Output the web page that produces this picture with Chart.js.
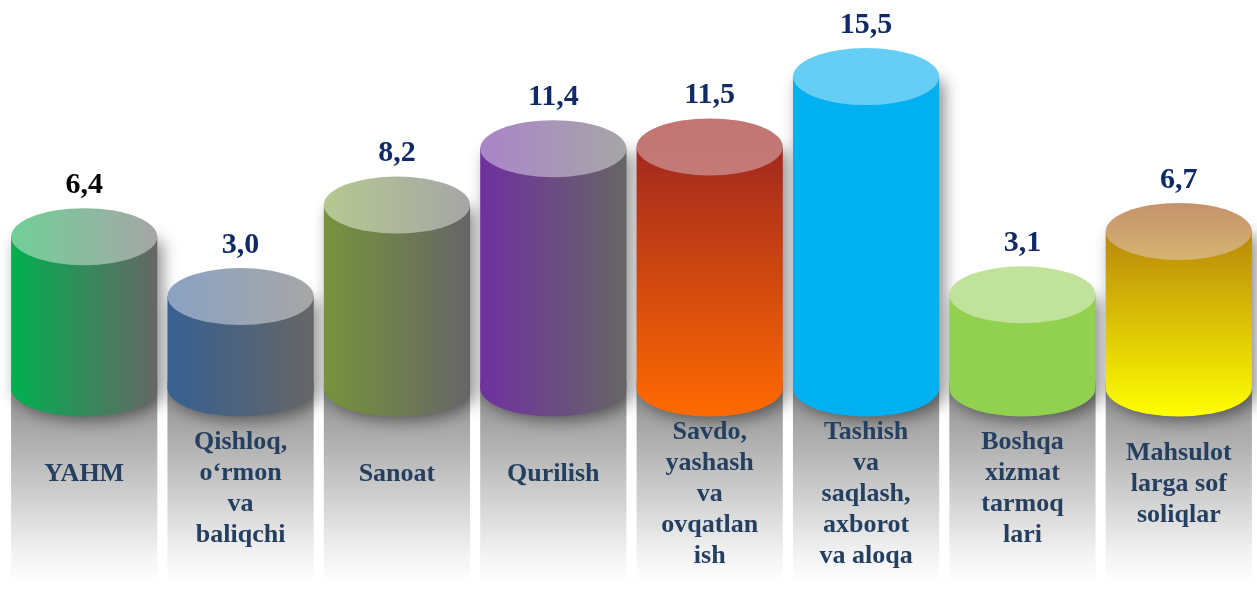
<!DOCTYPE html>
<html>
<head>
<meta charset="utf-8">
<script src="https://cdn.jsdelivr.net/npm/chart.js@4"></script>
<style>
  html, body { margin: 0; padding: 0; background: #ffffff; }
  #wrap { width: 1257px; height: 603px; position: relative; overflow: hidden; }
</style>
</head>
<body>
<div id="wrap"><canvas id="sectorChart"></canvas></div>
<script>
// Tarmoqlar (kategoriyalar), har bir qator alohida
const sectors = [
    ['YAHM'],
    ['Qishloq,', 'o‘rmon', 'va', 'baliqchi'],
    ['Sanoat'],
    ['Qurilish'],
    ['Savdo,', 'yashash', 'va', 'ovqatlan', 'ish'],
    ['Tashish', 'va', 'saqlash,', 'axborot', 'va aloqa'],
    ['Boshqa', 'xizmat', 'tarmoq', 'lari'],
    ['Mahsulot', 'larga sof', 'soliqlar']
];
const growthValues = [6.4, 3.0, 8.2, 11.4, 11.5, 15.5, 3.1, 6.7];
const axisMin = -2.2;
const axisMax = 19.85;

// silindr ranglari: h = gorizontal gradient, v = vertikal
const cylinderStyles = [
    { dir: 'h', body: ['#00b050', '#666666'], top: ['#70d098', '#a6a6a6'], label: '#000000' },
    { dir: 'h', body: ['#376092', '#666666'], top: ['#8aa2c3', '#a6a6a6'], label: '#0f2a66' },
    { dir: 'h', body: ['#77933c', '#666666'], top: ['#b5c890', '#a6a6a6'], label: '#0f2a66' },
    { dir: 'h', body: ['#7030a0', '#666666'], top: ['#aa84c9', '#a6a6a6'], label: '#0f2a66' },
    { dir: 'v', body: ['#a3281f', '#ff6a00'], top: ['#c27572', '#c47a76'], label: '#0f2a66' },
    { dir: 'v', body: ['#00b0f0', '#00b0f0'], top: ['#66cef5', '#66cef5'], label: '#0f2a66' },
    { dir: 'v', body: ['#92d050', '#92d050'], top: ['#c0e29b', '#c0e29b'], label: '#0f2a66' },
    { dir: 'v', body: ['#b8860b', '#ffff00'], top: ['#c4926c', '#d6b470'], label: '#0f2a66' }
];

const serif = '"Liberation Serif", "Times New Roman", serif';

function grad(ctx, st, pair, left, right, top, bottom) {
    const g = st.dir === 'h'
        ? ctx.createLinearGradient(left, 0, right, 0)
        : ctx.createLinearGradient(0, top, 0, bottom);
    g.addColorStop(0, pair[0]);
    g.addColorStop(1, pair[1]);
    return g;
}

const cylinderPlugin = {
    id: 'cylinders',
    beforeDatasetsDraw(chart) {
        // kulrang "aks" to'rtburchaklar
        const ctx = chart.ctx;
        const meta = chart.getDatasetMeta(0);
        meta.data.forEach((bar) => {
            const left = bar.x - bar.width / 2;
            const top = bar.base - 6;
            const bottom = bar.base + 195;
            const g = ctx.createLinearGradient(0, top, 0, bottom);
            g.addColorStop(0, '#8a8a8a');
            g.addColorStop(0.2, '#a4a4a4');
            g.addColorStop(0.55, '#cdcdcd');
            g.addColorStop(0.85, '#f2f2f2');
            g.addColorStop(1, '#ffffff');
            ctx.save();
            ctx.fillStyle = g;
            ctx.fillRect(left, top, bar.width, bottom - top);
            ctx.restore();
        });
    },
    afterDatasetsDraw(chart) {
        const ctx = chart.ctx;
        const meta = chart.getDatasetMeta(0);
        const xScale = chart.scales.x;
        meta.data.forEach((bar, i) => {
            const st = cylinderStyles[i];
            const rx = bar.width / 2;
            const ry = bar.width * 0.195;
            const left = bar.x - rx;
            const right = bar.x + rx;
            const topY = bar.y;
            const baseY = bar.base;

            ctx.save();
            ctx.shadowColor = 'rgba(0,0,0,0.45)';
            ctx.shadowBlur = 16;
            ctx.shadowOffsetX = 5;
            ctx.shadowOffsetY = 4;
            ctx.beginPath();
            ctx.moveTo(left, topY);
            ctx.lineTo(left, baseY);
            ctx.ellipse(bar.x, baseY, rx, ry, 0, Math.PI, 0, true);
            ctx.lineTo(right, topY);
            ctx.closePath();
            ctx.fillStyle = grad(ctx, st, st.body, left, right, topY, baseY + ry);
            ctx.fill();
            ctx.restore();

            ctx.save();
            ctx.beginPath();
            ctx.ellipse(bar.x, topY, rx, ry, 0, 0, Math.PI * 2);
            ctx.fillStyle = grad(ctx, st, st.top, left, right, topY - ry, topY + ry);
            ctx.fill();
            ctx.restore();

            // qiymat yorlig'i
            ctx.save();
            ctx.font = 'bold 30px ' + serif;
            ctx.fillStyle = st.label;
            ctx.textAlign = 'center';
            ctx.textBaseline = 'middle';
            ctx.fillText(growthValues[i].toFixed(1).replace('.', ','), bar.x, topY - ry - 23);
            ctx.restore();

            // tarmoq nomi
            const lines = sectors[i];
            const lh = 31;
            const cy = 474 + 5 * (lines.length - 1);
            const x = xScale.getPixelForValue(i);
            ctx.save();
            ctx.font = 'bold 26px ' + serif;
            ctx.fillStyle = '#243f60';
            ctx.textAlign = 'center';
            ctx.textBaseline = 'middle';
            lines.forEach((ln, k) => {
                ctx.fillText(ln, x, cy + (k - (lines.length - 1) / 2) * lh);
            });
            ctx.restore();
        });
    }
};

const ctx = document.getElementById('sectorChart').getContext('2d');
const sectorChart = new Chart(ctx, {
    type: 'bar',
    data: {
        labels: sectors,
        datasets: [{
            data: growthValues,
            base: axisMin,
            backgroundColor: 'rgba(0,0,0,0)',
            borderWidth: 0,
            barPercentage: 0.935,
            categoryPercentage: 1
        }]
    },
    options: {
        responsive: true,
        maintainAspectRatio: false,
        animation: false,
        layout: { padding: { left: 6, right: -7, top: 0, bottom: 215 } },
        plugins: { legend: { display: false }, tooltip: { enabled: false } },
        scales: {
            x: { display: false },
            y: { display: false, min: axisMin, max: axisMax }
        }
    },
    plugins: [cylinderPlugin]
});
</script>
</body>
</html>
